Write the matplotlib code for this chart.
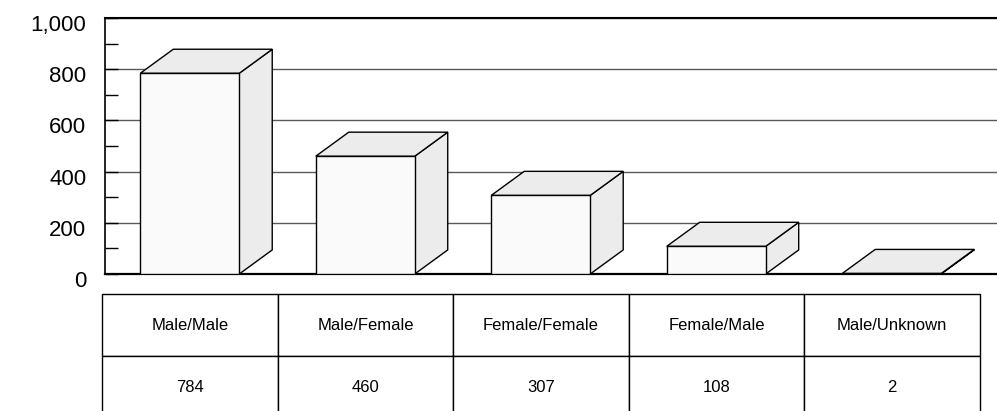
import matplotlib
matplotlib.use("Agg")
import matplotlib.pyplot as plt
import matplotlib.ticker as mticker
from matplotlib.patches import Polygon, Rectangle
from matplotlib.transforms import ScaledTranslation
import numpy as np

plt.rcParams["font.family"] = ["Liberation Sans", "DejaVu Sans"]

categories = ["Male/Male", "Male/Female", "Female/Female", "Female/Male", "Male/Unknown"]
counts = [784, 460, 307, 108, 2]
y_ticks = [0, 200, 400, 600, 800, 1000]
y_minor = [100, 300, 500, 700, 900]

W, H = 997, 411
fig = plt.figure(figsize=(W / 100, H / 100), dpi=100)

ax = fig.add_axes([105 / W, (H - 274) / H, (W - 105) / W, (274 - 18) / H])
x = np.arange(len(categories))
ax.set_xlim(-0.483, 4.6)
ax.set_ylim(0, 1000)

bar_w = 0.564
dx, dy = 0.188, 94  # depth of the 3D effect in data units
front_c, shade_c = "#fafafa", "#ececec"
lw = 1.0

for xi, v in zip(x, counts):
    l, r = xi - bar_w / 2, xi + bar_w / 2
    side = Polygon([(r, 0), (r + dx, dy), (r + dx, v + dy), (r, v)],
                   closed=True, facecolor=shade_c, edgecolor="black", lw=lw, zorder=3)
    top = Polygon([(l, v), (r, v), (r + dx, v + dy), (l + dx, v + dy)],
                  closed=True, facecolor=shade_c, edgecolor="black", lw=lw, zorder=3)
    front = Rectangle((l, 0), bar_w, v, facecolor=front_c, edgecolor="black", lw=lw, zorder=4)
    for p in (side, top, front):
        ax.add_patch(p)

ax.set_yticks(y_ticks)
ax.set_yticks(y_minor, minor=True)
ax.yaxis.set_major_formatter(mticker.StrMethodFormatter("{x:,.0f}"))
ax.yaxis.grid(True, which="major", color="#5a5a5a", lw=1.0)
ax.set_axisbelow(True)
ax.tick_params(axis="y", which="both", direction="in", length=9.4, width=1.0,
               color="black", labelsize=16, pad=13.5)
ax.tick_params(axis="x", bottom=False, labelbottom=False)
offset = ScaledTranslation(0, -5 / 100, fig.dpi_scale_trans)
for lab in ax.get_yticklabels():
    lab.set_transform(lab.get_transform() + offset)

ax.spines["right"].set_visible(False)
ax.spines["left"].set_linewidth(1.2)
ax.spines["top"].set_linewidth(1.5)
ax.spines["bottom"].set_linewidth(1.6)

# data table under the chart
tax = fig.add_axes([102 / W, (H - 418) / H, (980 - 102) / W, (418 - 294) / H])
tax.axis("off")
tab = tax.table(cellText=[categories, [f"{c:,}" for c in counts]],
                cellLoc="center", bbox=[0, 0, 1, 1])
tab.auto_set_font_size(False)
tab.set_fontsize(12)
for cell in tab.get_celld().values():
    cell.set_edgecolor("black")
    cell.set_linewidth(1.0)

fig.savefig("out.png", dpi=100)
